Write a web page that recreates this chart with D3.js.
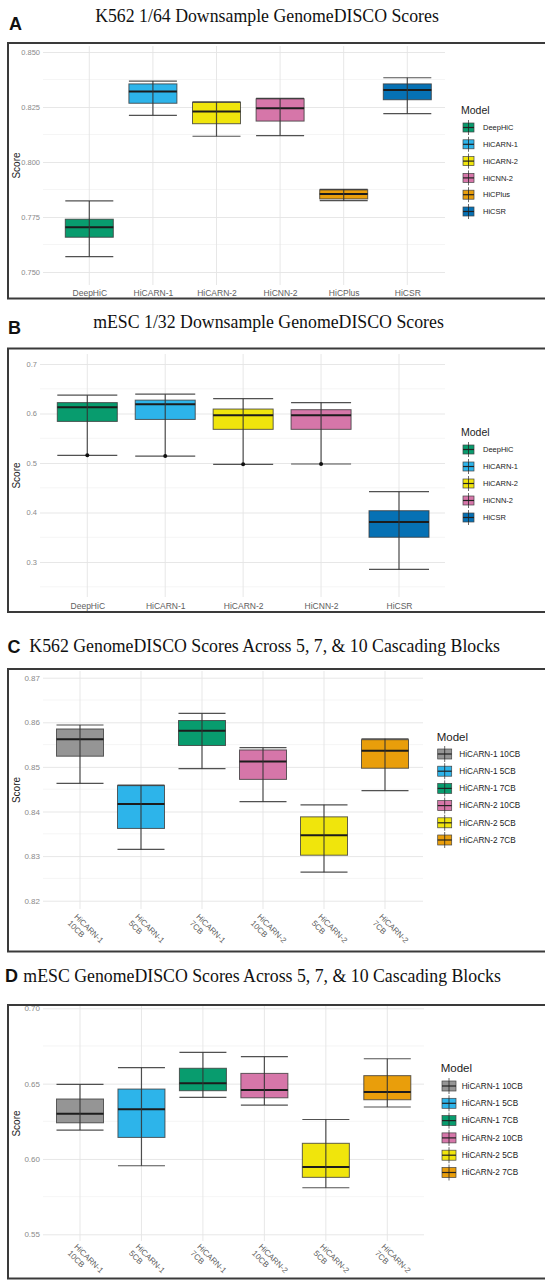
<!DOCTYPE html>
<html>
<head>
<meta charset="utf-8">
<script src="https://cdn.jsdelivr.net/npm/d3@7"></script>
<style>
  body { margin: 0; background: #fff; }
  svg { display: block; }
  .sans { font-family: "Liberation Sans", Arial, Helvetica, sans-serif; }
  .serif { font-family: "Liberation Serif", "Times New Roman", serif; }
</style>
</head>
<body>
<div id="chart"></div>
<script>
// ---- data : [min, q1, median, q3, max]
const aModels = ["DeepHiC", "HiCARN-1", "HiCARN-2", "HiCNN-2", "HiCPlus", "HiCSR"];
const aStats = [
  [0.7570, 0.7658, 0.7703, 0.7740, 0.7823],
  [0.8212, 0.8267, 0.8321, 0.8355, 0.8368],
  [0.8117, 0.8174, 0.8230, 0.8271, 0.8273],
  [0.8120, 0.8186, 0.8244, 0.8287, 0.8289],
  [0.7824, 0.7832, 0.7855, 0.7873, 0.7876],
  [0.8220, 0.8283, 0.8327, 0.8355, 0.8383]
];
const aTicks = [0.750, 0.775, 0.800, 0.825, 0.850];

const bModels = ["DeepHiC", "HiCARN-1", "HiCARN-2", "HiCNN-2", "HiCSR"];
const bStats = [
  [0.5156, 0.584, 0.6125, 0.622, 0.637],
  [0.5140, 0.588, 0.6186, 0.627, 0.639],
  [0.4974, 0.568, 0.5964, 0.609, 0.630],
  [0.4980, 0.568, 0.5964, 0.6077, 0.622],
  [0.2850, 0.350, 0.381, 0.4036, 0.442]
];
const bOutliers = [0.5156, 0.5140, 0.4974, 0.4980, null];
const bTicks = [0.3, 0.4, 0.5, 0.6, 0.7];

const cbModels = ["HiCARN-1 10CB", "HiCARN-1 5CB", "HiCARN-1 7CB", "HiCARN-2 10CB", "HiCARN-2 5CB", "HiCARN-2 7CB"];
const cStats = [
  [0.8463, 0.8524, 0.8562, 0.8585, 0.8594],
  [0.8315, 0.8362, 0.8417, 0.8458, 0.8459],
  [0.8496, 0.8548, 0.8581, 0.8604, 0.8620],
  [0.8422, 0.8472, 0.8512, 0.8538, 0.8543],
  [0.8264, 0.8302, 0.8347, 0.8388, 0.8415],
  [0.8447, 0.8497, 0.8536, 0.8561, 0.8563]
];
const cTicks = [0.82, 0.83, 0.84, 0.85, 0.86, 0.87];

const dStats = [
  [0.6192, 0.6240, 0.6300, 0.6398, 0.6495],
  [0.5955, 0.6143, 0.6330, 0.6464, 0.6606],
  [0.6409, 0.6453, 0.6502, 0.6602, 0.6708],
  [0.6358, 0.6406, 0.6457, 0.6568, 0.6679],
  [0.5809, 0.5878, 0.5946, 0.6104, 0.6262],
  [0.6345, 0.6393, 0.6444, 0.6553, 0.6665]
];
const dTicks = [0.55, 0.60, 0.65, 0.70];

// colours (Okabe-Ito like)
var colors = {
  "DeepHiC": "#089c6e", "HiCARN-1": "#2db4ea", "HiCARN-2": "#f0e50c",
  "HiCNN-2": "#d676a9", "HiCPlus": "#e99e0b", "HiCSR": "#0671b4",
  "HiCARN-1 10CB": "#959595", "HiCARN-1 5CB": "#2db4ea", "HiCARN-1 7CB": "#089c6e",
  "HiCARN-2 10CB": "#d676a9", "HiCARN-2 5CB": "#f0e50c", "HiCARN-2 7CB": "#e99e0b"
};

var svg = d3.select("#chart").append("svg")
  .attr("width", 545).attr("height", 1280);

function drawPanel(p) {
  var g = svg.append("g");

  // letter + title
  g.append("text").attr("class", "sans").attr("x", p.letterX).attr("y", p.letterY)
    .style("font-size", "18px").style("font-weight", "bold").attr("fill", "#111").text(p.letter);
  g.append("text").attr("class", "serif").attr("x", p.titleX).attr("y", p.titleY)
    .attr("text-anchor", p.titleAnchor).style("font-size", "17.8px").attr("fill", "#111").text(p.title);

  var y = d3.scaleLinear().domain(p.yDom).range(p.yRng);
  var x = d3.scalePoint().domain(p.cats).range(p.xRng);

  // minor grid
  var step = p.ticks[1] - p.ticks[0];
  var minor = [];
  for (var i = -1; i < p.ticks.length; i++) {
    var v = p.ticks[0] + step * (i + 0.5);
    if (y(v) > p.top && y(v) < p.bottom) minor.push(v);
  }
  g.selectAll(".minor").data(minor).enter().append("line")
    .attr("x1", p.left).attr("x2", p.right)
    .attr("y1", d => y(d)).attr("y2", d => y(d))
    .attr("stroke", "#f1f1f1").attr("stroke-width", 0.7);

  // major grid (y)
  g.append("g").attr("transform", "translate(" + p.left + ",0)")
    .call(d3.axisLeft(y).tickValues(p.ticks).tickSize(-(p.right - p.left)).tickFormat(""))
    .call(a => a.select(".domain").remove())
    .call(a => a.selectAll("line").attr("stroke", "#e4e4e4").attr("stroke-width", 0.9));
  // y tick labels
  g.append("g").attr("class", "sans").attr("transform", "translate(" + p.left + ",0)")
    .call(d3.axisLeft(y).tickValues(p.ticks).tickSize(0).tickPadding(3).tickFormat(d3.format(p.fmt)))
    .call(a => a.select(".domain").remove())
    .call(a => a.selectAll("text").attr("fill", "#8a8a8a").style("font-size", p.tickFont + "px").attr("font-family", null));

  // vertical grid at categories
  g.selectAll(".vgrid").data(p.cats).enter().append("line")
    .attr("x1", d => x(d)).attr("x2", d => x(d))
    .attr("y1", p.top).attr("y2", p.bottom)
    .attr("stroke", "#e4e4e4").attr("stroke-width", 0.9);

  // x tick labels
  if (!p.rotate) {
    g.append("g").attr("class", "sans").attr("transform", "translate(0," + p.bottom + ")")
      .call(d3.axisBottom(x).tickSize(0).tickPadding(p.xPad))
      .call(a => a.select(".domain").remove())
      .call(a => a.selectAll("text").attr("fill", "#5e5e5e").style("font-size", "8.5px").attr("font-family", null));
  } else {
    p.cats.forEach(function(c) {
      var parts = c.split(" ");
      var t = g.append("text").attr("class", "sans")
        .attr("transform", "translate(" + (x(c) - 2) + "," + p.xLabY + ") rotate(45)")
        .attr("fill", "#5e5e5e").style("font-size", "8px");
      t.append("tspan").attr("x", 0).attr("dy", "0.75em").text(parts[0]);
      t.append("tspan").attr("x", 0).attr("dy", "1.17em").text(parts[1]);
    });
  }

  // Score label
  g.append("text").attr("class", "sans")
    .attr("transform", "translate(" + p.scoreX + "," + ((p.top + p.bottom) / 2) + ") rotate(-90)")
    .attr("text-anchor", "middle").style("font-size", "10px").attr("fill", "#222").text("Score");

  // boxes
  var bw = p.boxW;
  var boxes = g.selectAll(".box").data(p.stats).enter().append("g")
    .attr("transform", (d, i) => "translate(" + x(p.cats[i]) + ",0)");
  boxes.append("rect")
    .attr("x", -bw / 2).attr("width", bw)
    .attr("y", d => y(d[3])).attr("height", d => y(d[1]) - y(d[3]))
    .attr("fill", (d, i) => colors[p.cats[i]])
    .attr("stroke", "#3a3a3a").attr("stroke-opacity", 0.8).attr("stroke-width", 1);
  boxes.append("line").attr("x1", -bw / 2).attr("x2", bw / 2)
    .attr("y1", d => y(d[2])).attr("y2", d => y(d[2]))
    .attr("stroke", "#1c1c1c").attr("stroke-width", 2);
  boxes.append("line").attr("x1", 0).attr("x2", 0)
    .attr("y1", d => y(d[0])).attr("y2", d => y(d[4]))
    .attr("stroke", "#333").attr("stroke-opacity", 0.85).attr("stroke-width", 1.2);
  [0, 4].forEach(function(k) {
    boxes.append("line").attr("x1", -bw / 2).attr("x2", bw / 2)
      .attr("y1", d => y(d[k])).attr("y2", d => y(d[k]))
      .attr("stroke", "#333").attr("stroke-opacity", 0.85).attr("stroke-width", 1.2);
  });
  if (p.outliers) {
    p.outliers.forEach(function(o, i) {
      if (o == null) return;
      g.append("circle").attr("cx", x(p.cats[i])).attr("cy", y(o)).attr("r", 2).attr("fill", "#111");
    });
  }

  // legend
  g.append("text").attr("class", "sans").attr("x", p.legX).attr("y", p.legTitleY)
    .style("font-size", p.legTitleFont + "px").attr("fill", "#222").text("Model");
  var kw = p.keyW, kh = p.keyH;
  var items = g.selectAll(".leg").data(p.cats).enter().append("g")
    .attr("transform", (d, i) => "translate(" + p.keyX + "," + (p.legY0 + i * p.legStep) + ")");
  items.append("line").attr("x1", kw / 2).attr("x2", kw / 2).attr("y1", -kh / 2 - 3).attr("y2", kh / 2 + 3)
    .attr("stroke", "#444").attr("stroke-width", 0.8);
  items.append("rect").attr("x", 0).attr("y", -kh / 2).attr("width", kw).attr("height", kh)
    .attr("fill", d => colors[d]).attr("stroke", "#444").attr("stroke-width", 0.7);
  items.append("line").attr("x1", 0).attr("x2", kw).attr("y1", 0).attr("y2", 0)
    .attr("stroke", "#222").attr("stroke-width", 1.2);
  items.append("line").attr("x1", kw / 2).attr("x2", kw / 2).attr("y1", -kh / 2).attr("y2", kh / 2)
    .attr("stroke", "#222").attr("stroke-width", 0.8);
  items.append("text").attr("class", "sans").attr("x", p.labX - p.keyX).attr("y", 0)
    .attr("dy", "0.35em").style("font-size", p.legFont + "px").attr("fill", "#222").text(d => d);

  // panel border
  svg.append("rect").attr("x", 8).attr("y", p.boxTop).attr("width", 560).attr("height", p.boxBottom - p.boxTop)
    .attr("fill", "none").attr("stroke", "#3a3a3a").attr("stroke-width", 2);
}

drawPanel({
  letter: "A", letterX: 9, letterY: 30, title: "K562 1/64 Downsample GenomeDISCO Scores",
  titleX: 267, titleY: 22, titleAnchor: "middle",
  boxTop: 43, boxBottom: 298.5,
  cats: aModels, stats: aStats, ticks: aTicks, fmt: ".3f", tickFont: 7.5,
  yDom: [0.75, 0.85], yRng: [272, 52], xRng: [89.3, 407.3],
  left: 43, right: 445, top: 46, bottom: 285, xPad: 5, boxW: 48, scoreX: 20,
  legX: 461, legTitleY: 114, keyX: 463, keyW: 11, keyH: 9, labX: 483,
  legY0: 127.5, legStep: 16.8, legFont: 7.5, legTitleFont: 10.5
});

drawPanel({
  letter: "B", letterX: 8, letterY: 333.5, title: "mESC 1/32 Downsample GenomeDISCO Scores",
  titleX: 268.5, titleY: 328, titleAnchor: "middle",
  boxTop: 348.5, boxBottom: 612,
  cats: bModels, stats: bStats, outliers: bOutliers, ticks: bTicks, fmt: ".1f", tickFont: 7.5,
  yDom: [0.3, 0.7], yRng: [562, 364], xRng: [87.3, 399],
  left: 40, right: 445, top: 354, bottom: 597, xPad: 6, boxW: 60, scoreX: 20,
  legX: 461, legTitleY: 436, keyX: 463, keyW: 11, keyH: 9, labX: 483,
  legY0: 449.5, legStep: 17, legFont: 7.5, legTitleFont: 10.5
});

drawPanel({
  letter: "C", letterX: 7.5, letterY: 652.5, title: "K562 GenomeDISCO Scores Across 5, 7, & 10 Cascading Blocks",
  titleX: 29.3, titleY: 652, titleAnchor: "start",
  boxTop: 669, boxBottom: 951.5,
  cats: cbModels, stats: cStats, ticks: cTicks, fmt: ".2f", tickFont: 8,
  yDom: [0.82, 0.87], yRng: [900.7, 677.7], xRng: [80, 385],
  left: 43, right: 423, top: 671, bottom: 909, rotate: true, xLabY: 913, boxW: 47, scoreX: 20,
  legX: 436.7, legTitleY: 741, keyX: 437.7, keyW: 14, keyH: 10, labX: 459.3,
  legY0: 754, legStep: 17.2, legFont: 8.2, legTitleFont: 11.5
});

drawPanel({
  letter: "D", letterX: 5, letterY: 981.5, title: "mESC GenomeDISCO Scores Across 5, 7, & 10 Cascading Blocks",
  titleX: 23.3, titleY: 982, titleAnchor: "start",
  boxTop: 1005, boxBottom: 1278.5,
  cats: cbModels, stats: dStats, ticks: dTicks, fmt: ".2f", tickFont: 8,
  yDom: [0.55, 0.70], yRng: [1234.3, 1008.3], xRng: [80, 387.3],
  left: 43, right: 424, top: 1006, bottom: 1241, rotate: true, xLabY: 1243, boxW: 47, scoreX: 20,
  legX: 440.7, legTitleY: 1072, keyX: 442, keyW: 14, keyH: 10, labX: 461.7,
  legY0: 1086, legStep: 17.3, legFont: 8.2, legTitleFont: 11.5
});
</script>
</body>
</html>
